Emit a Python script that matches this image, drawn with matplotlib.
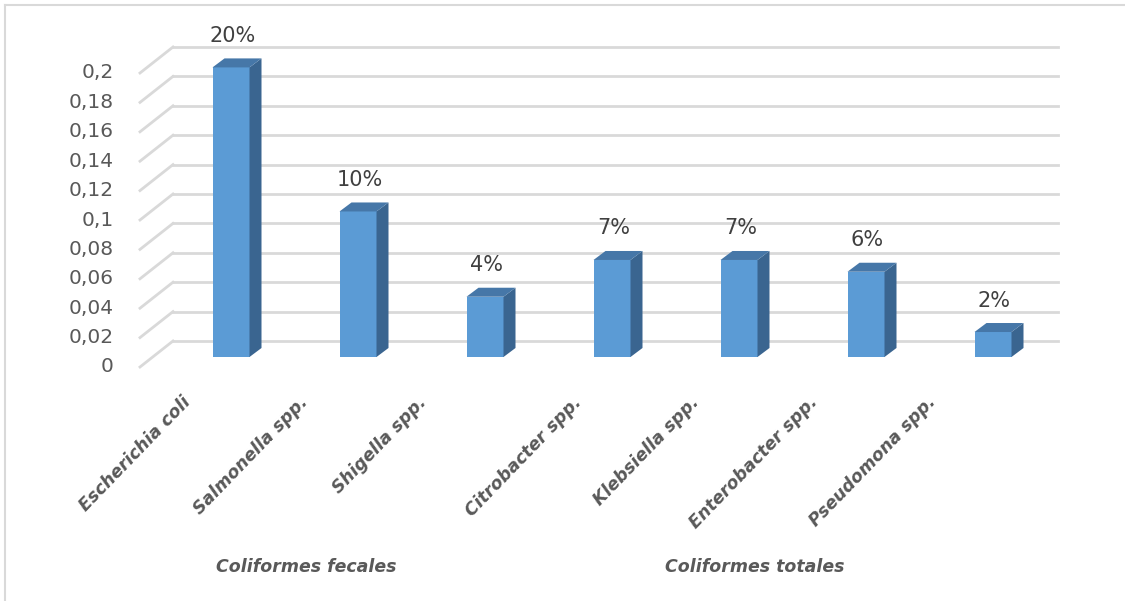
import matplotlib
matplotlib.use("Agg")
import matplotlib.pyplot as plt
from matplotlib.patches import Polygon
from matplotlib.lines import Line2D

# ---- data ----
categories = ["Escherichia coli", "Salmonella spp.", "Shigella spp.", "Citrobacter spp.",
              "Klebsiella spp.", "Enterobacter spp.", "Pseudomona spp."]
values = [0.197, 0.099, 0.041, 0.066, 0.066, 0.058, 0.017]
pct_labels = ["20%", "10%", "4%", "7%", "7%", "6%", "2%"]
y_ticks = [0, 0.02, 0.04, 0.06, 0.08, 0.1, 0.12, 0.14, 0.16, 0.18, 0.2]
y_tick_labels = ["0", "0,02", "0,04", "0,06", "0,08", "0,1", "0,12", "0,14", "0,16", "0,18", "0,2"]
groups = ["Coliformes fecales", "Coliformes totales"]
group_of = [0, 0, 0, 1, 1, 1, 1]

W, H = 1125, 601
fig = plt.figure(figsize=(W / 100, H / 100), dpi=100)
fig.patch.set_facecolor("white")

# pixel geometry of the plotting area
px_left, px_right, px_top, px_bot = 130, 1070, 30, 380
ax = fig.add_axes([px_left / W, (H - px_bot) / H, (px_right - px_left) / W, (px_bot - px_top) / H])
ax.set_axis_off()

x0_px, step_px = 231, 127          # category 0 center, category step
y0_px, scale = 357, 1470.0         # value 0 pixel, pixels per unit value
ax.set_xlim((px_left - x0_px) / step_px, (px_right - x0_px) / step_px)
ax.set_ylim((y0_px - px_bot) / scale, (y0_px - px_top) / scale)

def dx(p):
    return p / step_px

def dy(p):
    return p / scale

grid_col = "#d9d9d9"
front_off = dy(-10)     # front floor edge below bar base
back_off = dy(16)       # back wall above bar base
x_front = dx(140 - x0_px)
x_back = dx(173 - x0_px)
x_end = dx(1058 - x0_px)

for t in y_ticks:
    ax.add_line(Line2D([x_back, x_end], [t + back_off, t + back_off], color=grid_col, lw=2, zorder=1))
    ax.add_line(Line2D([x_front, x_back], [t + front_off, t + back_off], color=grid_col, lw=2, zorder=1))

text_col = "#595959"
for t, lab in zip(y_ticks, y_tick_labels):
    ax.text(dx(114 - x0_px), t + front_off, lab, ha="right", va="center",
            fontsize=14.5, color=text_col, clip_on=False)

# bars (pseudo 3D)
bw = 37 / step_px
ddx, ddy = dx(12), dy(9)
front_c, top_c, side_c = "#5b9bd5", "#4677a8", "#3a6590"
xs = list(range(len(values)))
ax.bar(xs, values, width=bw, color=front_c, zorder=3, linewidth=0)
for x, v in zip(xs, values):
    l, r = x - bw / 2, x + bw / 2
    ax.add_patch(Polygon([(r, 0), (r + ddx, ddy), (r + ddx, v + ddy), (r, v)],
                         closed=True, facecolor=side_c, edgecolor="none", zorder=3))
    ax.add_patch(Polygon([(l, v), (r, v), (r + ddx, v + ddy), (l + ddx, v + ddy)],
                         closed=True, facecolor=top_c, edgecolor="none", zorder=3))

for x, v, lab in zip(xs, values, pct_labels):
    ax.annotate(lab, (x, v + ddy), xytext=(1, 9), textcoords="offset points",
                ha="center", va="bottom", fontsize=15, color="#404040", zorder=4)

# category labels (multi-level axis: labels spaced slightly tighter, with a gap between groups)
lab_step, grp_gap, lab_start = 118, 37, 181
for i, (lab, g) in enumerate(zip(categories, group_of)):
    xe = lab_start + lab_step * i + grp_gap * g
    ax.text(dx(xe - x0_px), (y0_px - 393) / scale, lab, rotation=46, rotation_mode="anchor",
            ha="right", va="top", fontsize=12.5, fontweight="bold", fontstyle="italic",
            color=text_col, clip_on=False)

# group labels
fig.text(306 / W, 1 - 567 / H, groups[0], ha="center", va="center", fontsize=12.5,
         fontweight="bold", fontstyle="italic", color=text_col)
fig.text(755 / W, 1 - 567 / H, groups[1], ha="center", va="center", fontsize=12.5,
         fontweight="bold", fontstyle="italic", color=text_col)

# chart border (top and left visible)
fig.add_artist(Line2D([5 / W, 1], [1 - 5 / H, 1 - 5 / H], color="#d9d9d9", lw=1.5, transform=fig.transFigure))
fig.add_artist(Line2D([5 / W, 5 / W], [0, 1 - 5 / H], color="#d9d9d9", lw=1.5, transform=fig.transFigure))

fig.savefig("out.png", dpi=100, facecolor="white")
